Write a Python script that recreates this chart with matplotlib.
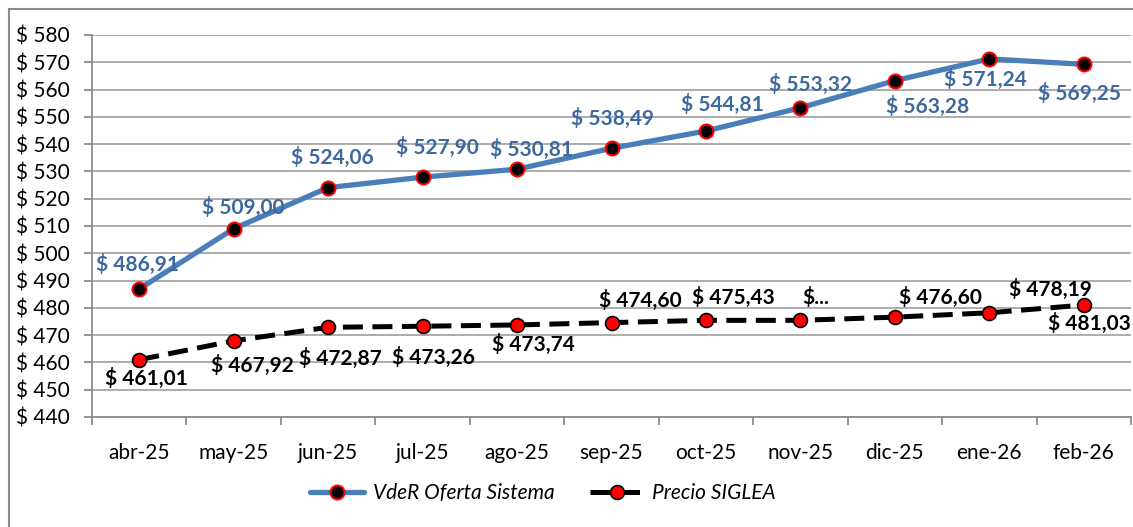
import matplotlib
matplotlib.use("Agg")
import matplotlib.pyplot as plt
from matplotlib.patches import Rectangle

meses = ["abr-25", "may-25", "jun-25", "jul-25", "ago-25", "sep-25",
         "oct-25", "nov-25", "dic-25", "ene-26", "feb-26"]
vder = [486.91, 509.00, 524.06, 527.90, 530.81, 538.49,
        544.81, 553.32, 563.28, 571.24, 569.25]
siglea = [461.01, 467.92, 472.87, 473.26, 473.74, 474.60,
          475.43, 475.43, 476.60, 478.19, 481.03]
vder_labels = ["$ 486,91", "$ 509,00", "$ 524,06", "$ 527,90", "$ 530,81", "$ 538,49",
               "$ 544,81", "$ 553,32", "$ 563,28", "$ 571,24", "$ 569,25"]
siglea_labels = ["$ 461,01", "$ 467,92", "$ 472,87", "$ 473,26", "$ 473,74", "$ 474,60",
                 "$ 475,43", "$...", "$ 476,60", "$ 478,19", "$ 481,03"]
yticks = list(range(440, 581, 10))

# label offsets in pixels (dx, dy) from each point
vder_off = [(-2, 25), (10, 21), (4, 30), (15, 30), (14, 20), (1, 30),
            (16, 27), (10, 23), (33, -26), (-4, -21), (-4, -29)]
siglea_off = [(7, -19), (19, -25), (12, -31), (11, -31), (16, -20), (29, 22),
              (27, 23), (15, 23), (46, 20), (61, 23), (6, -18)]

plt.rcParams['font.family'] = ['Lato', 'DejaVu Sans']

fig = plt.figure(figsize=(11.33, 5.27), dpi=100)
ax = fig.add_axes([92 / 1133, 1 - 417 / 527, 1039 / 1133, 382 / 527])

x = list(range(len(meses)))
blue = "#4a7ebb"
ax.plot(x, vder, color=blue, lw=3.8, marker='o', ms=10,
        mfc='black', mec='red', mew=1.5, solid_capstyle='round',
        label="VdeR Oferta Sistema", zorder=4)
ax.plot(x, siglea, color='black', lw=3.6, ls=(0, (4, 1.9)), marker='o', ms=10,
        mfc='red', mec='black', mew=1.2,
        label="Precio SIGLEA", zorder=4)

for xi, yi, t, (dx, dy) in zip(x, vder, vder_labels, vder_off):
    ax.annotate(t, (xi, yi), xytext=(dx, dy), textcoords='offset pixels',
                ha='center', va='center', fontsize=15, fontweight='bold',
                color="#3d68a0", zorder=5)
for xi, yi, t, (dx, dy) in zip(x, siglea, siglea_labels, siglea_off):
    ax.annotate(t, (xi, yi), xytext=(dx, dy), textcoords='offset pixels',
                ha='center', va='center', fontsize=15, fontweight='bold',
                color="black", zorder=5)

ax.set_xlim(-0.5, len(meses) - 0.5)
ax.set_ylim(440, 580)
ax.set_yticks(yticks)
ax.set_yticklabels([f"$ {v}" for v in yticks], fontsize=15)
ax.set_xticks(x)
ax.set_xticklabels(meses, fontsize=15)
ax.set_xticks([i - 0.5 for i in range(len(meses) + 1)], minor=True)
ax.tick_params(axis='x', which='major', length=0, pad=19)
ax.tick_params(axis='x', which='minor', length=6, color='#8c8c8c', width=1.3)
ax.tick_params(axis='y', length=6, color='#8c8c8c', width=1.3, pad=10)
ax.grid(axis='y', color='#a6a6a6', lw=1.3)
ax.set_axisbelow(True)
for s in ['top', 'right']:
    ax.spines[s].set_visible(False)
for s in ['left', 'bottom']:
    ax.spines[s].set_color('#8c8c8c')
    ax.spines[s].set_linewidth(1.3)

leg = fig.legend(loc='center', bbox_to_anchor=(543 / 1133, 1 - 493 / 527), ncol=2,
                 frameon=False, prop={'style': 'italic', 'size': 15},
                 handlelength=2.6, columnspacing=1.7, handletextpad=0.4)

fig.patches.append(Rectangle((9 / 1133, -0.1), 1.2, 1.1 - 9 / 527 + 0.0,
                             transform=fig.transFigure, fill=False,
                             edgecolor='#8c8c8c', lw=1.5))

fig.savefig("out.png", dpi=100)
